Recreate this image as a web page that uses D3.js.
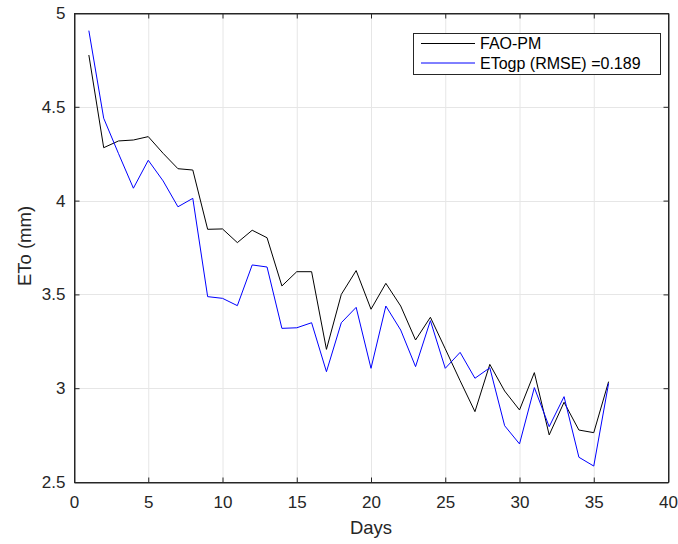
<!DOCTYPE html>
<html><head><meta charset="utf-8">
<script src="https://cdn.jsdelivr.net/npm/d3@7"></script>
<style>body{margin:0;background:#fff}svg{display:block}text{font-family:"Liberation Sans",Arial,sans-serif}</style>
</head><body><svg id="c" width="678" height="544"></svg>
<script>
const days = d3.range(1, 37);
const faoPM = [4.776,4.282,4.318,4.323,4.341,4.252,4.170,4.163,3.847,3.849,3.776,3.842,3.802,3.545,3.621,3.621,3.207,3.500,3.627,3.421,3.559,3.438,3.257,3.378,3.210,3.040,2.875,3.127,2.985,2.884,3.083,2.751,2.925,2.777,2.763,3.035];
const etogp = [4.906,4.439,4.250,4.066,4.215,4.105,3.967,4.012,3.488,3.479,3.440,3.657,3.646,3.319,3.322,3.349,3.088,3.349,3.431,3.106,3.438,3.310,3.115,3.360,3.106,3.191,3.053,3.109,2.800,2.703,3.003,2.795,2.955,2.632,2.585,3.026];
const xTicks = [0,5,10,15,20,25,30,35,40];
const yTicks = [2.5,3,3.5,4,4.5,5];
const seriesNames = ["FAO-PM","ETogp (RMSE) =0.189"];
const seriesColors = ["#000000","#0000ff"];

const L=74, R=668, T=13, B=482;
const svg = d3.select("#c");
const x = d3.scaleLinear().domain([0,40]).range([L,R]);
const y = d3.scaleLinear().domain([2.5,5]).range([B,T]);

// grid
const g = svg.append("g");
g.selectAll(".gx").data(xTicks).enter().append("line")
 .attr("x1",d=>x(d)+0.5).attr("x2",d=>x(d)+0.5).attr("y1",T).attr("y2",B)
 .attr("stroke","#e6e6e6").attr("stroke-width",1);
g.selectAll(".gy").data(yTicks).enter().append("line")
 .attr("y1",d=>Math.round(y(d))+0.5).attr("y2",d=>Math.round(y(d))+0.5).attr("x1",L).attr("x2",R)
 .attr("stroke","#e6e6e6").attr("stroke-width",1);

// axes
const ax = d3.axisBottom(x).tickValues(xTicks).tickSizeInner(-5).tickSizeOuter(0).tickPadding(13);
const axG = svg.append("g").attr("transform",`translate(0,${B+0.5})`).call(ax);
const ay = d3.axisLeft(y).tickValues(yTicks).tickFormat(d3.format("")).tickSizeInner(-5).tickSizeOuter(0).tickPadding(9);
const ayG = svg.append("g").attr("transform",`translate(${L+0.5},0)`).call(ay);
const axT = svg.append("g").attr("transform",`translate(0,${T+0.5})`).call(d3.axisTop(x).tickValues(xTicks).tickSizeInner(-5).tickSizeOuter(0).tickFormat(""));
const ayR = svg.append("g").attr("transform",`translate(${R+0.5},0)`).call(d3.axisRight(y).tickValues(yTicks).tickSizeInner(-5).tickSizeOuter(0).tickFormat(""));
[axG,ayG,axT,ayR].forEach(a=>{
  a.select(".domain").attr("stroke","#262626");
  a.selectAll(".tick line").attr("stroke","#262626");
  a.selectAll(".tick text").attr("fill","#262626").style("font-size","17px").style("font-family","'Liberation Sans',Arial,sans-serif");
});
svg.append("rect").attr("x",L+0.5).attr("y",T+0.5).attr("width",R-L).attr("height",B-T).attr("fill","none").attr("stroke","#262626");

// lines
const line = d3.line().x((d,i)=>x(days[i])).y(d=>y(d));
[faoPM, etogp].forEach((s,k)=>{
  svg.append("path").datum(s).attr("d",line).attr("fill","none").attr("stroke",seriesColors[k]).attr("stroke-width",1);
});

// labels
svg.append("text").attr("x",(L+R)/2).attr("y",534).attr("text-anchor","middle").attr("fill","#262626").style("font-size","18.5px").text("Days");
svg.append("text").attr("transform",`translate(31,246) rotate(-90)`).attr("text-anchor","middle").attr("fill","#262626").style("font-size","18.5px").text("ETo (mm)");

// legend
const lg = svg.append("g");
lg.append("rect").attr("x",413.5).attr("y",33.5).attr("width",247).attr("height",41).attr("fill","#fff").attr("stroke","#262626");
seriesNames.forEach((n,i)=>{
  const yy = 43.5 + i*19.5;
  lg.append("line").attr("x1",421).attr("x2",475).attr("y1",yy).attr("y2",yy).attr("stroke",seriesColors[i]).attr("stroke-width",1);
  lg.append("text").attr("x",480).attr("y",yy+5.5).attr("fill","#000").style("font-size","16px").text(n);
});
</script></body></html>
